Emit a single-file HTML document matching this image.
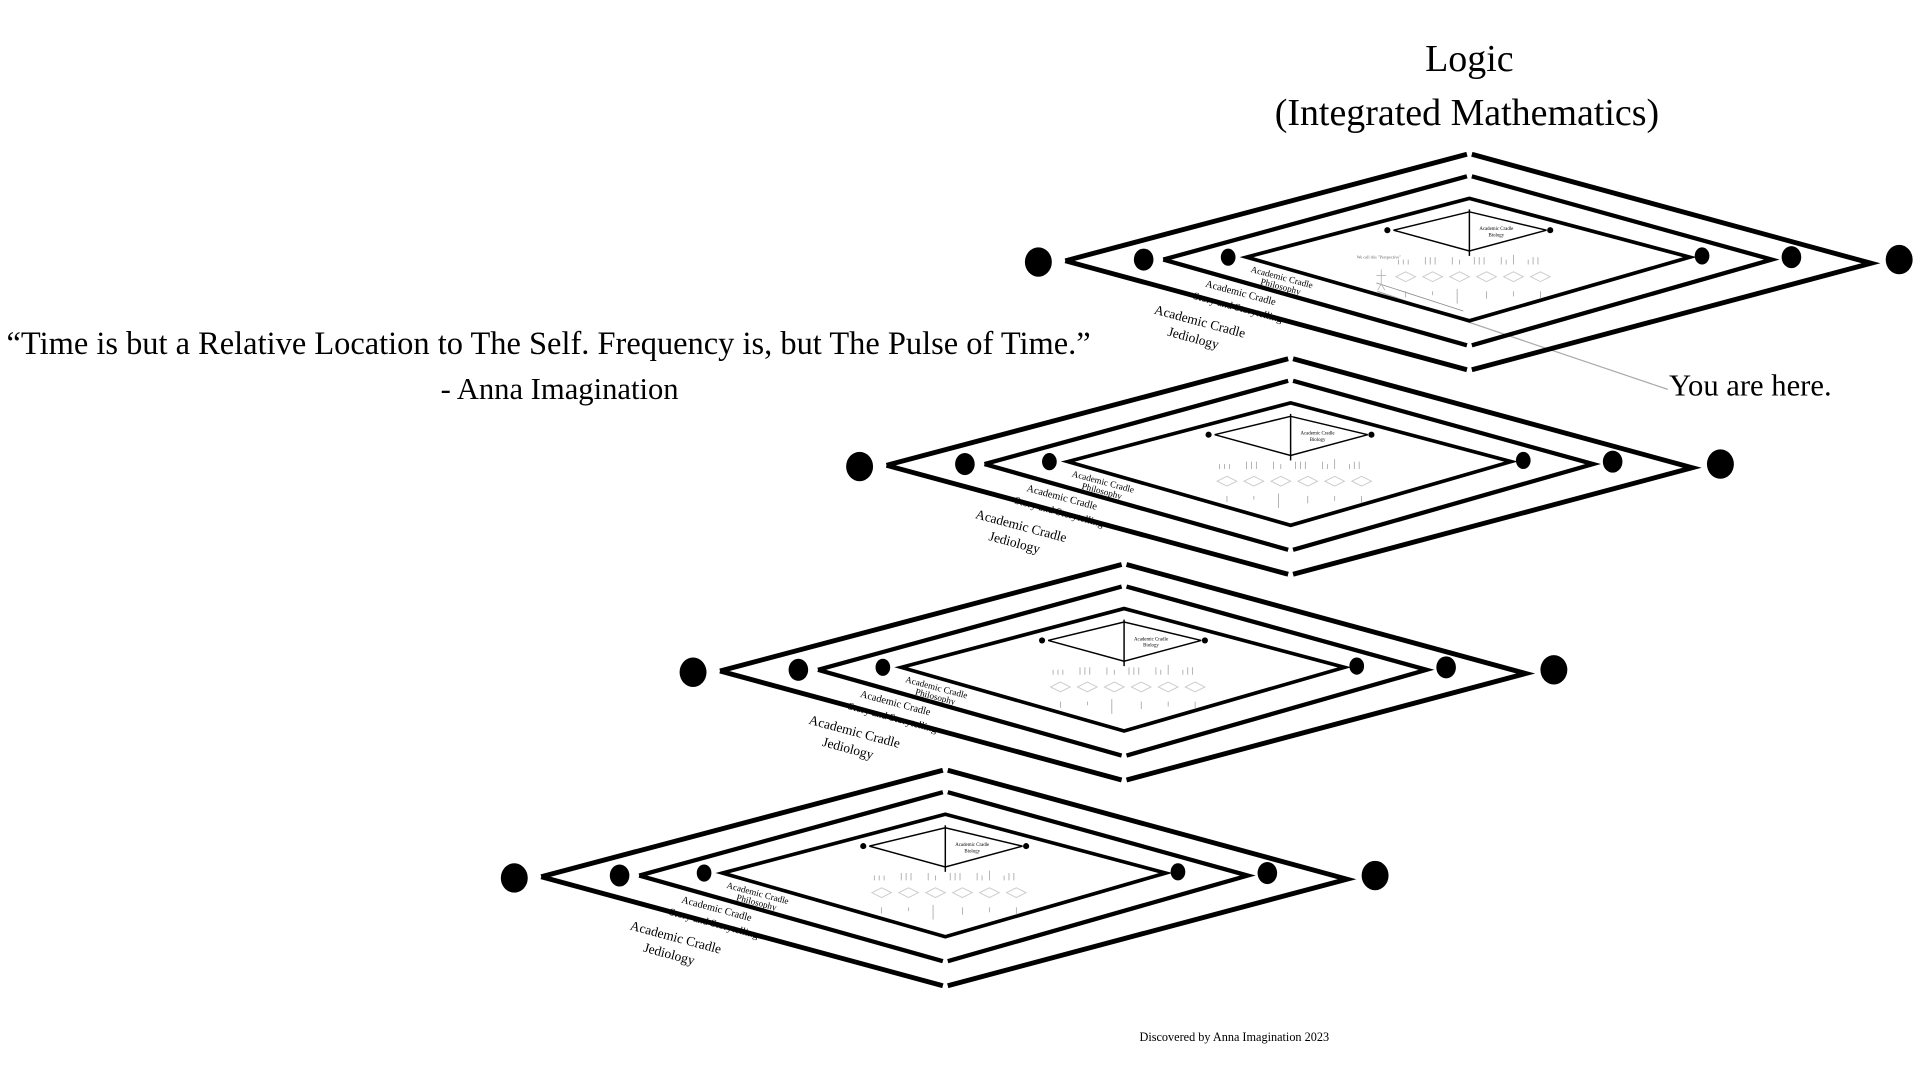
<!DOCTYPE html>
<html><head><meta charset="utf-8"><style>html,body{margin:0;padding:0;background:#fff;}svg{display:block}</style></head>
<body>
<svg width="1920" height="1080" viewBox="0 0 1568 882" xmlns="http://www.w3.org/2000/svg" font-family="Liberation Serif, serif">
<rect width="1568" height="882" fill="#fff"/>
<text x="1200" y="58" font-size="31" text-anchor="middle">Logic</text>
<text x="1198" y="102" font-size="31" text-anchor="middle">(Integrated Mathematics)</text>
<text x="448" y="289" font-size="26.5" text-anchor="middle">“Time is but a Relative Location to The Self. Frequency is, but The Pulse of Time.”</text>
<text x="457" y="326" font-size="25" text-anchor="middle">- Anna Imagination</text>
<text x="1363" y="323" font-size="25">You are here.</text>
<line x1="1125" y1="238" x2="1362" y2="318" stroke="#aaa" stroke-width="1"/>
<text x="1008" y="850" font-size="10" text-anchor="middle">Discovered by Anna Imagination 2023</text>

<g transform="translate(1200,214)">
<g fill="none" stroke="#000" stroke-linecap="butt">
<path d="M-330,-1 L-2,-88 M2,-88 L328,1 L2,88 M-2,88 L-330,-1" stroke-width="4"/>
<path d="M-250,-2 L-2,-70 M2,-70 L247,-2 L2,68 M-2,68 L-250,-2" stroke-width="3.5"/>
<path d="M-182,-4 L0,-52 L180,-4 L0,48 Z" stroke-width="3"/>
<path d="M-62,-26 L0,-41 L63,-26 L0,-9 Z" stroke-width="1.2"/>
<line x1="0" y1="-43" x2="0" y2="-5" stroke-width="1.2"/>
<line x1="-76" y1="17" x2="-5" y2="40" stroke="#888" stroke-width="0.6"/>
<path d="M-60,12 l8,-4 l8,4 l-8,4z M-38,12 l8,-4 l8,4 l-8,4z M-16,12 l8,-4 l8,4 l-8,4z M6,12 l8,-4 l8,4 l-8,4z M28,12 l8,-4 l8,4 l-8,4z M50,12 l8,-4 l8,4 l-8,4z" stroke="#ccc" stroke-width="0.8"/>
<path d="M-58,-2v4 M-54,-2v4 M-50,-2v4 M-36,-4v6 M-32,-4v6 M-28,-4v6 M-14,-4v6 M-8,-2v4 M4,-4v6 M8,-4v6 M12,-4v6 M26,-4v6 M30,-2v4 M36,-6v8 M48,-2v4 M52,-4v6 M56,-4v6 M-52,24v5 M-30,24v3 M-10,22v12 M14,24v6 M36,24v4 M58,24v6" stroke="#999" stroke-width="0.6"/>
<path d="M-72,6 v12 M-72,18 l-3,5 M-72,18 l3,5 M-76,11 h8" stroke="#aaa" stroke-width="0.6"/>
</g>
<g fill="#000">
<ellipse cx="-352" cy="0" rx="11" ry="12"/><ellipse cx="-266" cy="-2" rx="8" ry="9"/><ellipse cx="-197" cy="-4" rx="6" ry="7"/>
<ellipse cx="190" cy="-5" rx="6" ry="7"/><ellipse cx="263" cy="-4" rx="8" ry="9"/><ellipse cx="351" cy="-2" rx="11" ry="12"/>
<circle cx="-67" cy="-26" r="2.5"/><circle cx="66" cy="-26" r="2.5"/>
</g>
<text x="22" y="-26" font-size="4" text-anchor="middle">Academic Cradle</text>
<text x="22" y="-21" font-size="4" text-anchor="middle">Biology</text>
<text x="-92" y="-3" font-size="3.5" fill="#666">We call this "Perspective"</text>
<text transform="translate(-179,8) rotate(15)" font-size="7.5">Academic Cradle</text>
<text transform="translate(-171,18) rotate(15)" font-size="7.5">Philosophy</text>
<text transform="translate(-216,20) rotate(15)" font-size="8.5">Academic Cradle</text>
<text transform="translate(-226,30) rotate(15)" font-size="8.5">Story and Storytelling</text>
<text transform="translate(-258,42) rotate(15)" font-size="11">Academic Cradle</text>
<text transform="translate(-247,60) rotate(15)" font-size="11">Jediology</text>
</g>

<g transform="translate(1054,381)">
<g fill="none" stroke="#000" stroke-linecap="butt">
<path d="M-330,-1 L-2,-88 M2,-88 L328,1 L2,88 M-2,88 L-330,-1" stroke-width="4"/>
<path d="M-250,-2 L-2,-70 M2,-70 L247,-2 L2,68 M-2,68 L-250,-2" stroke-width="3.5"/>
<path d="M-182,-4 L0,-52 L180,-4 L0,48 Z" stroke-width="3"/>
<path d="M-62,-26 L0,-41 L63,-26 L0,-9 Z" stroke-width="1.2"/>
<line x1="0" y1="-43" x2="0" y2="-5" stroke-width="1.2"/>
<path d="M-60,12 l8,-4 l8,4 l-8,4z M-38,12 l8,-4 l8,4 l-8,4z M-16,12 l8,-4 l8,4 l-8,4z M6,12 l8,-4 l8,4 l-8,4z M28,12 l8,-4 l8,4 l-8,4z M50,12 l8,-4 l8,4 l-8,4z" stroke="#ccc" stroke-width="0.8"/>
<path d="M-58,-2v4 M-54,-2v4 M-50,-2v4 M-36,-4v6 M-32,-4v6 M-28,-4v6 M-14,-4v6 M-8,-2v4 M4,-4v6 M8,-4v6 M12,-4v6 M26,-4v6 M30,-2v4 M36,-6v8 M48,-2v4 M52,-4v6 M56,-4v6 M-52,24v5 M-30,24v3 M-10,22v12 M14,24v6 M36,24v4 M58,24v6" stroke="#999" stroke-width="0.6"/>
</g>
<g fill="#000">
<ellipse cx="-352" cy="0" rx="11" ry="12"/><ellipse cx="-266" cy="-2" rx="8" ry="9"/><ellipse cx="-197" cy="-4" rx="6" ry="7"/>
<ellipse cx="190" cy="-5" rx="6" ry="7"/><ellipse cx="263" cy="-4" rx="8" ry="9"/><ellipse cx="351" cy="-2" rx="11" ry="12"/>
<circle cx="-67" cy="-26" r="2.5"/><circle cx="66" cy="-26" r="2.5"/>
</g>
<text x="22" y="-26" font-size="4" text-anchor="middle">Academic Cradle</text>
<text x="22" y="-21" font-size="4" text-anchor="middle">Biology</text>
<text transform="translate(-179,8) rotate(15)" font-size="7.5">Academic Cradle</text>
<text transform="translate(-171,18) rotate(15)" font-size="7.5">Philosophy</text>
<text transform="translate(-216,20) rotate(15)" font-size="8.5">Academic Cradle</text>
<text transform="translate(-226,30) rotate(15)" font-size="8.5">Story and Storytelling</text>
<text transform="translate(-258,42) rotate(15)" font-size="11">Academic Cradle</text>
<text transform="translate(-247,60) rotate(15)" font-size="11">Jediology</text>
</g>

<g transform="translate(918,549)">
<g fill="none" stroke="#000" stroke-linecap="butt">
<path d="M-330,-1 L-2,-88 M2,-88 L328,1 L2,88 M-2,88 L-330,-1" stroke-width="4"/>
<path d="M-250,-2 L-2,-70 M2,-70 L247,-2 L2,68 M-2,68 L-250,-2" stroke-width="3.5"/>
<path d="M-182,-4 L0,-52 L180,-4 L0,48 Z" stroke-width="3"/>
<path d="M-62,-26 L0,-41 L63,-26 L0,-9 Z" stroke-width="1.2"/>
<line x1="0" y1="-43" x2="0" y2="-5" stroke-width="1.2"/>
<path d="M-60,12 l8,-4 l8,4 l-8,4z M-38,12 l8,-4 l8,4 l-8,4z M-16,12 l8,-4 l8,4 l-8,4z M6,12 l8,-4 l8,4 l-8,4z M28,12 l8,-4 l8,4 l-8,4z M50,12 l8,-4 l8,4 l-8,4z" stroke="#ccc" stroke-width="0.8"/>
<path d="M-58,-2v4 M-54,-2v4 M-50,-2v4 M-36,-4v6 M-32,-4v6 M-28,-4v6 M-14,-4v6 M-8,-2v4 M4,-4v6 M8,-4v6 M12,-4v6 M26,-4v6 M30,-2v4 M36,-6v8 M48,-2v4 M52,-4v6 M56,-4v6 M-52,24v5 M-30,24v3 M-10,22v12 M14,24v6 M36,24v4 M58,24v6" stroke="#999" stroke-width="0.6"/>
</g>
<g fill="#000">
<ellipse cx="-352" cy="0" rx="11" ry="12"/><ellipse cx="-266" cy="-2" rx="8" ry="9"/><ellipse cx="-197" cy="-4" rx="6" ry="7"/>
<ellipse cx="190" cy="-5" rx="6" ry="7"/><ellipse cx="263" cy="-4" rx="8" ry="9"/><ellipse cx="351" cy="-2" rx="11" ry="12"/>
<circle cx="-67" cy="-26" r="2.5"/><circle cx="66" cy="-26" r="2.5"/>
</g>
<text x="22" y="-26" font-size="4" text-anchor="middle">Academic Cradle</text>
<text x="22" y="-21" font-size="4" text-anchor="middle">Biology</text>
<text transform="translate(-179,8) rotate(15)" font-size="7.5">Academic Cradle</text>
<text transform="translate(-171,18) rotate(15)" font-size="7.5">Philosophy</text>
<text transform="translate(-216,20) rotate(15)" font-size="8.5">Academic Cradle</text>
<text transform="translate(-226,30) rotate(15)" font-size="8.5">Story and Storytelling</text>
<text transform="translate(-258,42) rotate(15)" font-size="11">Academic Cradle</text>
<text transform="translate(-247,60) rotate(15)" font-size="11">Jediology</text>
</g>

<g transform="translate(772,717)">
<g fill="none" stroke="#000" stroke-linecap="butt">
<path d="M-330,-1 L-2,-88 M2,-88 L328,1 L2,88 M-2,88 L-330,-1" stroke-width="4"/>
<path d="M-250,-2 L-2,-70 M2,-70 L247,-2 L2,68 M-2,68 L-250,-2" stroke-width="3.5"/>
<path d="M-182,-4 L0,-52 L180,-4 L0,48 Z" stroke-width="3"/>
<path d="M-62,-26 L0,-41 L63,-26 L0,-9 Z" stroke-width="1.2"/>
<line x1="0" y1="-43" x2="0" y2="-5" stroke-width="1.2"/>
<path d="M-60,12 l8,-4 l8,4 l-8,4z M-38,12 l8,-4 l8,4 l-8,4z M-16,12 l8,-4 l8,4 l-8,4z M6,12 l8,-4 l8,4 l-8,4z M28,12 l8,-4 l8,4 l-8,4z M50,12 l8,-4 l8,4 l-8,4z" stroke="#ccc" stroke-width="0.8"/>
<path d="M-58,-2v4 M-54,-2v4 M-50,-2v4 M-36,-4v6 M-32,-4v6 M-28,-4v6 M-14,-4v6 M-8,-2v4 M4,-4v6 M8,-4v6 M12,-4v6 M26,-4v6 M30,-2v4 M36,-6v8 M48,-2v4 M52,-4v6 M56,-4v6 M-52,24v5 M-30,24v3 M-10,22v12 M14,24v6 M36,24v4 M58,24v6" stroke="#999" stroke-width="0.6"/>
</g>
<g fill="#000">
<ellipse cx="-352" cy="0" rx="11" ry="12"/><ellipse cx="-266" cy="-2" rx="8" ry="9"/><ellipse cx="-197" cy="-4" rx="6" ry="7"/>
<ellipse cx="190" cy="-5" rx="6" ry="7"/><ellipse cx="263" cy="-4" rx="8" ry="9"/><ellipse cx="351" cy="-2" rx="11" ry="12"/>
<circle cx="-67" cy="-26" r="2.5"/><circle cx="66" cy="-26" r="2.5"/>
</g>
<text x="22" y="-26" font-size="4" text-anchor="middle">Academic Cradle</text>
<text x="22" y="-21" font-size="4" text-anchor="middle">Biology</text>
<text transform="translate(-179,8) rotate(15)" font-size="7.5">Academic Cradle</text>
<text transform="translate(-171,18) rotate(15)" font-size="7.5">Philosophy</text>
<text transform="translate(-216,20) rotate(15)" font-size="8.5">Academic Cradle</text>
<text transform="translate(-226,30) rotate(15)" font-size="8.5">Story and Storytelling</text>
<text transform="translate(-258,42) rotate(15)" font-size="11">Academic Cradle</text>
<text transform="translate(-247,60) rotate(15)" font-size="11">Jediology</text>
</g>
</svg>
</body></html>
